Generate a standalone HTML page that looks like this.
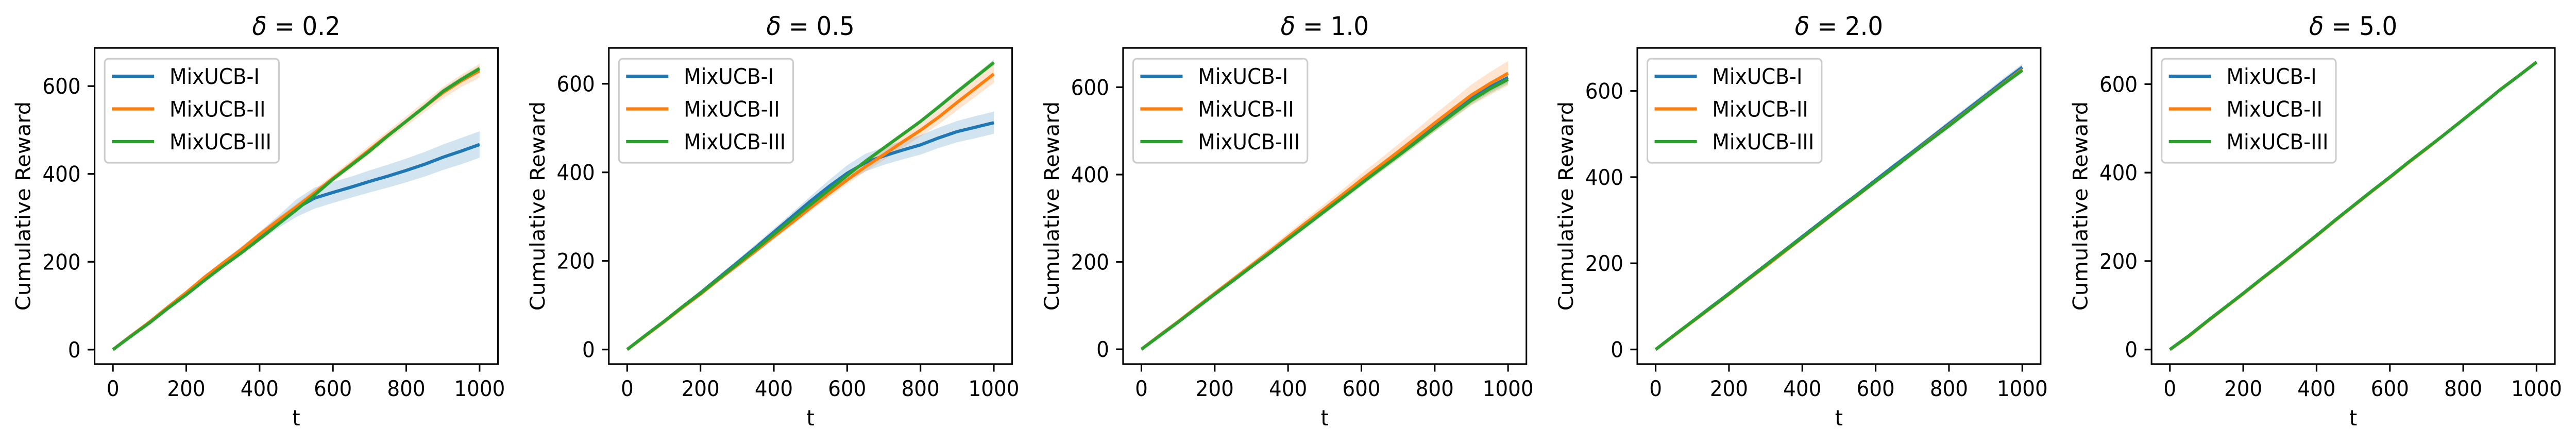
<!DOCTYPE html>
<html><head><meta charset="utf-8"><style>
html,body{margin:0;padding:0;background:#fff;overflow:hidden;width:100%;height:100%;}
svg{display:block;width:100vw;height:100vh;}
text{font-family:"DejaVu Sans","Liberation Sans",sans-serif;fill:#000;}
</style></head>
<body>
<svg id="fig" viewBox="0 0 5365 866" preserveAspectRatio="none" xmlns="http://www.w3.org/2000/svg"></svg>
<script>
// ---- data (t sampled every 50 steps) ----
const tValues = [0,50,100,150,200,250,300,350,400,450,500,550,600,650,700,750,800,850,900,950,1000];
const xTicks = [0,200,400,600,800,1000];
const yTicks = [0,200,400,600];
const seriesNames = ["MixUCB-I","MixUCB-II","MixUCB-III"];
const panelDeltas = ["0.2","0.5","1.0","2.0","5.0"];
const yLimits = [[-33,687],[-33,681],[-34,690],[-34,700],[-33,682]];

const p1Blue   = [0,32,62,96,128,162,195,226,258,290,322,345,358,370,383,395,408,422,438,452,467];
const p1Orange = [0,32,63,97,130,165,197,228,262,294,325,357,390,422,455,488,520,553,585,612,635];
const p1Green  = [0,31,61,94,125,158,190,220,252,285,318,352,388,420,452,487,520,553,588,615,640];
const p1BlueBand   = [1,2,3,4,5,6,7,8,10,14,20,24,24,24,25,26,27,28,29,30,30];
const p1OrangeBand = [1,2,3,3,4,4,5,5,6,6,7,8,8,9,10,10,11,12,13,14,16];
const p1GreenBand  = [1,1,2,2,2,3,3,3,3,4,4,4,4,5,5,5,5,6,6,6,6];

const p2Blue   = [0,32,63,96,128,162,196,230,265,300,335,368,398,422,437,450,462,478,492,502,512];
const p2Orange = [0,31,62,94,125,158,190,222,255,287,320,352,383,413,440,468,495,525,558,590,622];
const p2Green  = [0,32,63,96,127,160,193,226,260,294,327,360,393,425,455,485,515,548,582,615,648];
const p2BlueBand   = [1,2,3,4,5,5,6,7,8,9,11,14,18,20,20,21,22,23,24,25,25];
const p2OrangeBand = [1,2,3,3,4,4,5,5,6,7,8,9,10,11,12,13,14,16,18,19,20];
const p2GreenBand  = [1,1,2,2,2,3,3,3,3,4,4,4,4,5,5,5,5,6,6,6,7];

const p3Blue   = [0,32,63,95,127,159,190,222,254,286,318,350,383,414,446,478,510,542,574,600,622];
const p3Orange = [0,32,63,96,128,160,192,224,257,290,322,355,388,420,452,485,518,550,582,608,632];
const p3Green  = [0,31,62,94,126,157,189,220,252,284,316,348,380,412,443,475,507,539,570,596,618];
const p3BlueBand   = [1,2,2,3,3,4,4,5,5,6,6,7,7,8,8,9,9,10,10,11,11];
const p3OrangeBand = [1,2,3,4,5,6,7,8,9,10,11,12,14,15,17,18,20,22,24,26,28];
const p3GreenBand  = [1,2,2,3,3,4,4,5,5,6,6,7,7,8,8,9,9,10,10,11,11];

const p4Blue   = [0,33,65,98,130,163,196,229,262,295,328,360,393,426,458,491,524,557,590,623,655];
const p4Orange = [0,32,64,96,128,161,193,226,259,292,325,357,390,422,455,488,520,553,586,618,650];
const p4Green  = [0,33,65,97,129,162,195,228,260,293,326,358,390,422,455,487,519,552,585,617,648];
const p4BlueBand   = [1,1,2,2,3,3,3,4,4,4,5,5,5,6,6,6,7,7,7,8,8];
const p4OrangeBand = [1,1,2,2,2,3,3,3,3,4,4,4,4,5,5,5,5,6,6,6,6];
const p4GreenBand  = [1,1,2,2,2,3,3,3,3,4,4,4,4,5,5,5,5,6,6,6,6];

const p5Blue   = [0,30,63,95,127,160,192,225,258,292,325,358,390,423,454,487,520,553,587,618,650];
const p5Orange = [0,29,62,94,126,159,191,224,257,291,324,357,389,422,454,487,520,553,587,618,650];
const p5Green  = [0,30,63,95,127,160,192,225,258,292,325,358,390,423,455,487,520,553,587,618,650];
const p5BlueBand   = [0,1,1,1,1,1,1,1,1,1,1,1,1,1,1,1,1,1,1,1,1];
const p5OrangeBand = [0,1,1,1,1,1,1,1,1,1,1,1,1,1,1,1,1,1,1,1,1];
const p5GreenBand  = [0,1,1,1,1,1,1,1,1,1,1,1,1,1,1,1,1,1,1,1,1];

const panelSeries = [
  [p1Blue,p1Orange,p1Green],[p2Blue,p2Orange,p2Green],[p3Blue,p3Orange,p3Green],
  [p4Blue,p4Orange,p4Green],[p5Blue,p5Orange,p5Green]];
const panelBands = [
  [p1BlueBand,p1OrangeBand,p1GreenBand],[p2BlueBand,p2OrangeBand,p2GreenBand],
  [p3BlueBand,p3OrangeBand,p3GreenBand],[p4BlueBand,p4OrangeBand,p4GreenBand],
  [p5BlueBand,p5OrangeBand,p5GreenBand]];

// ---- layout ----
const colors = ["#1f77b4","#ff7f0e","#2ca02c"];
const NS = "http://www.w3.org/2000/svg";
const svg = document.getElementById("fig");
const AX_W = 840, AX_TOP = 93, AX_BOT = 707, PANEL_STEP = 1071, FIRST_LEFT = 197;
const XMIN = -50, XMAX = 1050;

function mk(tag, attrs, parent){
  const e = document.createElementNS(NS, tag);
  for (const k in attrs) e.setAttribute(k, attrs[k]);
  (parent||svg).appendChild(e);
  return e;
}

for (let p = 0; p < 5; p++){
  const left = FIRST_LEFT + p*PANEL_STEP;
  const [ymin, ymax] = yLimits[p];
  const sx = v => left + (v - XMIN)/(XMAX - XMIN)*AX_W;
  const sy = v => AX_BOT - (v - ymin)/(ymax - ymin)*(AX_BOT - AX_TOP);
  const g = mk("g", {});
  
  

  const clipId = "clip" + p;
  const cp = mk("clipPath", {id: clipId}, g);
  mk("rect", {x: left, y: AX_TOP, width: AX_W, height: AX_BOT - AX_TOP}, cp);

  for (let s = 0; s < 3; s++){
    const vals = panelSeries[p][s], band = panelBands[p][s];
    let d = "";
    tValues.forEach((t,i)=>{ d += (i?"L":"M") + sx(t).toFixed(1) + "," + sy(vals[i]+band[i]).toFixed(1); });
    for (let i = tValues.length-1; i >= 0; i--) d += "L" + sx(tValues[i]).toFixed(1) + "," + sy(vals[i]-band[i]).toFixed(1);
    const b = mk("path", {d: d+"Z", fill: colors[s], "fill-opacity": 0.2, stroke: "none", "clip-path": "url(#"+clipId+")"}, g);
    
    
  }
  for (let s = 0; s < 3; s++){
    const vals = panelSeries[p][s];
    const pts = tValues.map((t,i)=> sx(t).toFixed(1) + "," + sy(vals[i]).toFixed(1)).join(" ");
    const l = mk("polyline", {points: pts, fill: "none", stroke: colors[s], "stroke-width": 6.25, "stroke-linejoin": "round", "clip-path": "url(#"+clipId+")"}, g);
    
    
  }
  const fr = mk("rect", {x: left, y: AX_TOP, width: AX_W, height: AX_BOT - AX_TOP, fill: "none", stroke: "#000", "stroke-width": 3.3}, g);
  
  

  xTicks.forEach(v=>{
    const x = sx(v);
    mk("line", {x1: x, y1: AX_BOT, x2: x, y2: AX_BOT + 14.6, stroke: "#000", "stroke-width": 3.3}, g);
    const t = mk("text", {x: x, y: 769, "font-size": 41.7, "text-anchor": "middle"}, g);
    t.textContent = v;
    
    
  });
  yTicks.forEach(v=>{
    const y = sy(v);
    mk("line", {x1: left - 14.6, y1: y, x2: left, y2: y, stroke: "#000", "stroke-width": 3.3}, g);
    const t = mk("text", {x: left - 29, y: y + 15, "font-size": 41.7, "text-anchor": "end"}, g);
    t.textContent = v;
    
    
  });
  const xl = mk("text", {x: left + AX_W/2, y: 826, "font-size": 41.7, "text-anchor": "middle"}, g);
  xl.textContent = "t";
  
  
  const yc = (AX_TOP + AX_BOT)/2, yx = left - 134;
  const yl = mk("text", {x: yx, y: yc, "font-size": 41.7, "text-anchor": "middle", transform: "rotate(-90 "+yx+" "+yc+")"}, g);
  yl.textContent = "Cumulative Reward";
  
  
  const ti = mk("text", {x: left + AX_W/2, y: 68, "font-size": 50, "text-anchor": "middle"}, g);
  
  
  const ts = mk("tspan", {"font-style": "italic"}, ti);
  ts.textContent = "\u03B4";
  const tr = mk("tspan", {}, ti);
  tr.textContent = " = " + panelDeltas[p];

  const lg = mk("g", {}, g);
  
  
  mk("rect", {x: left + 21, y: 114, width: 363, height: 202, rx: 8, fill: "#fff", "fill-opacity": 0.8, stroke: "#cccccc", "stroke-width": 3.3}, lg);
  for (let s = 0; s < 3; s++){
    const y = 148 + s*63.5;
    const e = mk("g", {}, lg);
    
    
    mk("line", {x1: left + 36, y1: y, x2: left + 124, y2: y, stroke: colors[s], "stroke-width": 6.25}, e);
    const t = mk("text", {x: left + 156, y: y + 15, "font-size": 41.7}, e);
    t.textContent = seriesNames[s];
  }
}
</script>
</body></html>
